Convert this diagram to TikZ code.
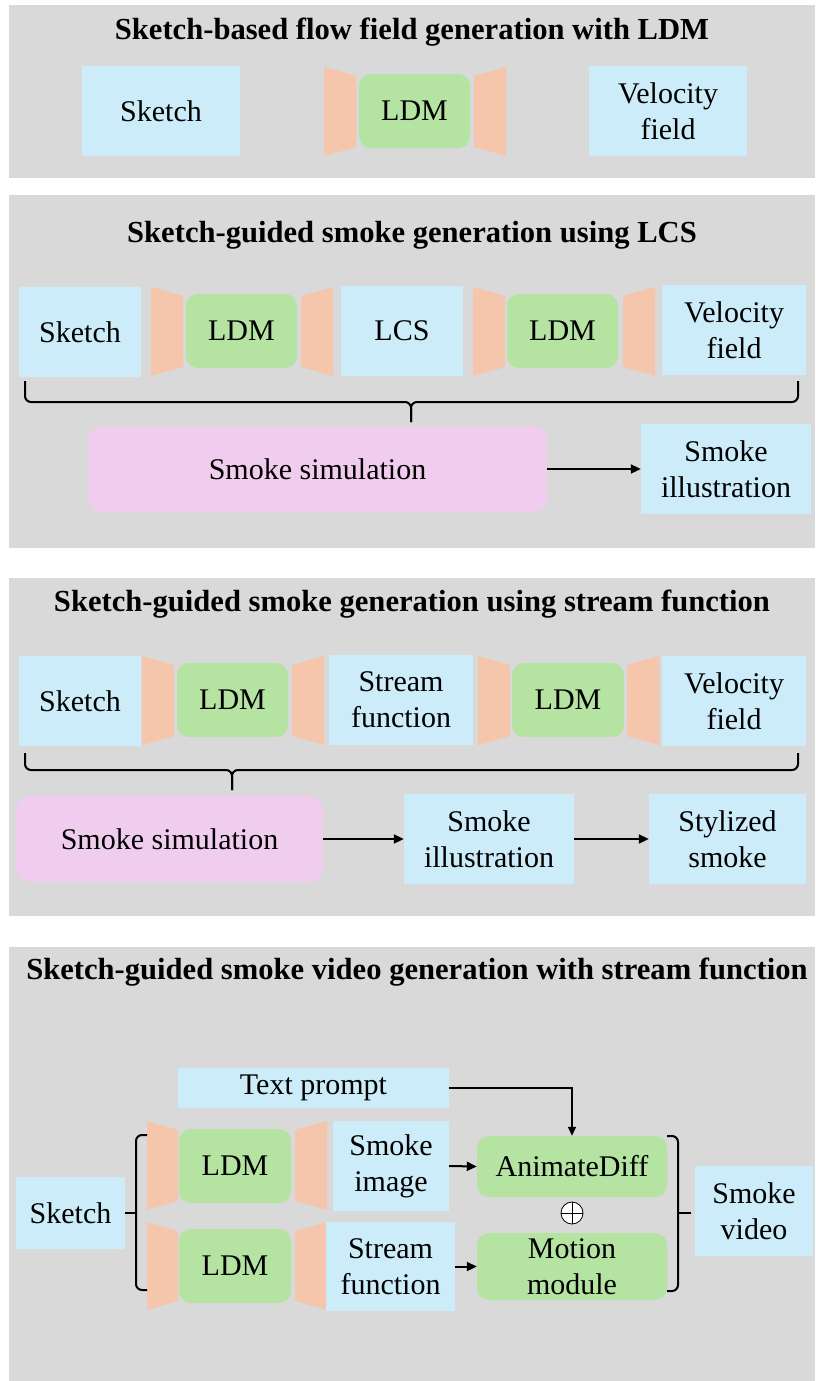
\documentclass[tikz,border=0pt]{standalone}
\usepackage{fontspec}
\setmainfont{Liberation Serif}
\usetikzlibrary{arrows.meta}

\definecolor{panelgray}{HTML}{D9D9D9}
\definecolor{boxblue}{HTML}{CCECFA}
\definecolor{ldmgreen}{HTML}{B5E3A2}
\definecolor{encpeach}{HTML}{F5C6AB}
\definecolor{simpink}{HTML}{F0CDEE}

% encoder / decoder trapezoids: x-left, x-right, y-top, y-bottom
\newcommand\encleft[4]{\fill[encpeach] (#1,#3) -- (#2,#3+9) -- (#2,#4-9) -- (#1,#4) -- cycle;}
\newcommand\encright[4]{\fill[encpeach] (#1,#3+9) -- (#2,#3) -- (#2,#4) -- (#1,#4-9) -- cycle;}

\tikzset{
  every node/.style={font=\fontsize{30}{36}\selectfont, inner sep=0pt, align=center},
  datbox/.style={fill=boxblue},
  ldmbox/.style={fill=ldmgreen, rounded corners=12pt},
  simbox/.style={fill=simpink, rounded corners=14pt},
  paneltitle/.style={font=\bfseries\fontsize{30.6}{36}\selectfont},
  flow/.style={line width=2pt, -{Triangle[length=10pt,width=9pt]}},
  thinflow/.style={line width=1.5pt, -{Triangle[length=9pt,width=8pt]}},
  bracketline/.style={line width=2pt, rounded corners=6pt},
}

\begin{document}
\begin{tikzpicture}[x=1pt, y=-1pt]
\useasboundingbox (0,0) rectangle (815,1381);

% ---------- panel 1 ----------
\fill[panelgray] (9,5) rectangle (815,178);
\node[paneltitle] (t1) at (412,32) {Sketch-based flow field generation with LDM};
\node[datbox, minimum width=158, minimum height=90] (p1sk) at (161,111) {Sketch};
\encleft{324}{356}{67}{156}
\node[ldmbox, minimum width=111, minimum height=74] (p1ldm) at (414.5,111) {LDM};
\encright{474}{506}{67}{156}
\node[datbox, minimum width=158, minimum height=90] (p1vel) at (668,111) {Velocity\\field};

% ---------- panel 2 ----------
\fill[panelgray] (9,195) rectangle (815,548);
\node[paneltitle] (t2) at (412,235) {Sketch-guided smoke generation using LCS};
\node[datbox, minimum width=122, minimum height=90] (p2sk) at (80,332) {Sketch};
\encleft{151}{183}{287}{376}
\node[ldmbox, minimum width=111, minimum height=74] (p2ldma) at (241.5,331) {LDM};
\encright{301}{333}{287}{376}
\node[datbox, minimum width=122, minimum height=90] (p2lcs) at (402,331) {LCS};
\encleft{473}{505}{287}{376}
\node[ldmbox, minimum width=111, minimum height=74] (p2ldmb) at (562.5,331) {LDM};
\encright{623}{655}{287}{376}
\node[datbox, minimum width=144, minimum height=90] (p2vel) at (734,330) {Velocity\\field};
\draw[bracketline] (25,381) -- (25,402) -- (411,402) -- (411,422);
\draw[bracketline] (798,381) -- (798,402) -- (411,402) -- (411,422);
\node[simbox, minimum width=459, minimum height=86] (p2sim) at (317.5,469) {Smoke simulation};
\node[datbox, minimum width=170, minimum height=90] (p2ill) at (726,469) {Smoke\\illustration};
\draw[flow] (p2sim.east) -- (p2ill.west);

% ---------- panel 3 ----------
\fill[panelgray] (9,578) rectangle (815,916);
\node[paneltitle] (t3) at (412,604) {Sketch-guided smoke generation using stream function};
\node[datbox, minimum width=122, minimum height=90] (p3sk) at (80,701) {Sketch};
\encleft{142}{174}{656}{745}
\node[ldmbox, minimum width=111, minimum height=74] (p3ldma) at (232.5,700) {LDM};
\encright{292}{324}{656}{745}
\node[datbox, minimum width=144, minimum height=90] (p3sf) at (401,700) {Stream\\function};
\encleft{478}{510}{656}{745}
\node[ldmbox, minimum width=112, minimum height=74] (p3ldmb) at (568,700) {LDM};
\encright{627}{659}{656}{745}
\node[datbox, minimum width=144, minimum height=90] (p3vel) at (734,701) {Velocity\\field};
\draw[bracketline] (25,753) -- (25,770) -- (232,770) -- (232,790);
\draw[bracketline] (798,753) -- (798,770) -- (232,770) -- (232,790);
\node[simbox, minimum width=307, minimum height=86] (p3sim) at (169.5,839) {Smoke simulation};
\node[datbox, minimum width=170, minimum height=90] (p3ill) at (489,839) {Smoke\\illustration};
\node[datbox, minimum width=157, minimum height=90] (p3sty) at (727.5,839) {Stylized\\smoke};
\draw[flow] (p3sim.east) -- (p3ill.west);
\draw[flow] (p3ill.east) -- (p3sty.west);

% ---------- panel 4 ----------
\fill[panelgray] (9,947) rectangle (815,1381);
\node[paneltitle] (t4) at (417,972) {Sketch-guided smoke video generation with stream function};
\node[datbox, minimum width=271, minimum height=40] (p4txt) at (313.5,1088) {Text prompt};
\node[datbox, minimum width=109, minimum height=72] (p4sk) at (70.5,1213) {Sketch};
% upper branch
\encleft{147}{178}{1121}{1210}
\node[ldmbox, minimum width=112, minimum height=74] (p4ldma) at (235,1166) {LDM};
\encright{295}{327}{1121}{1210}
\node[datbox, minimum width=116, minimum height=90] (p4img) at (391,1166) {Smoke\\image};
% lower branch
\encleft{147}{178}{1222}{1310}
\node[ldmbox, minimum width=112, minimum height=74] (p4ldmb) at (235,1266) {LDM};
\encright{295}{327}{1222}{1310}
\node[datbox, minimum width=129, minimum height=89] (p4sf) at (390.5,1266.5) {Stream\\function};
% video generators
\node[ldmbox, minimum width=190, minimum height=61] (p4ad) at (572,1166.5) {AnimateDiff};
\node[ldmbox, minimum width=190, minimum height=67] (p4mm) at (572,1266.5) {Motion\\module};
\node[circle, draw, fill=white, line width=0.8pt, minimum size=22] (p4plus) at (572,1213) {};
\draw[line width=0.8pt] (p4plus.north) -- (p4plus.south) (p4plus.west) -- (p4plus.east);
\node[datbox, minimum width=118, minimum height=90] (p4vid) at (754,1211) {Smoke\\video};
% brackets
\draw[bracketline] (147,1135) -- (136,1135) -- (136,1290) -- (147,1290);
\draw[line width=2pt] (136,1213) -- (p4sk.east);
\draw[bracketline] (667,1136) -- (678,1136) -- (678,1291) -- (667,1291);
\draw[line width=2pt] (678,1213) -- (691,1213);
% arrows
\draw[thinflow] (p4txt.east) -| (p4ad.north);
\draw[flow] (p4img.east) -- (p4ad.west);
\draw[flow] (p4sf.east) -- (p4mm.west);
\end{tikzpicture}
\end{document}
